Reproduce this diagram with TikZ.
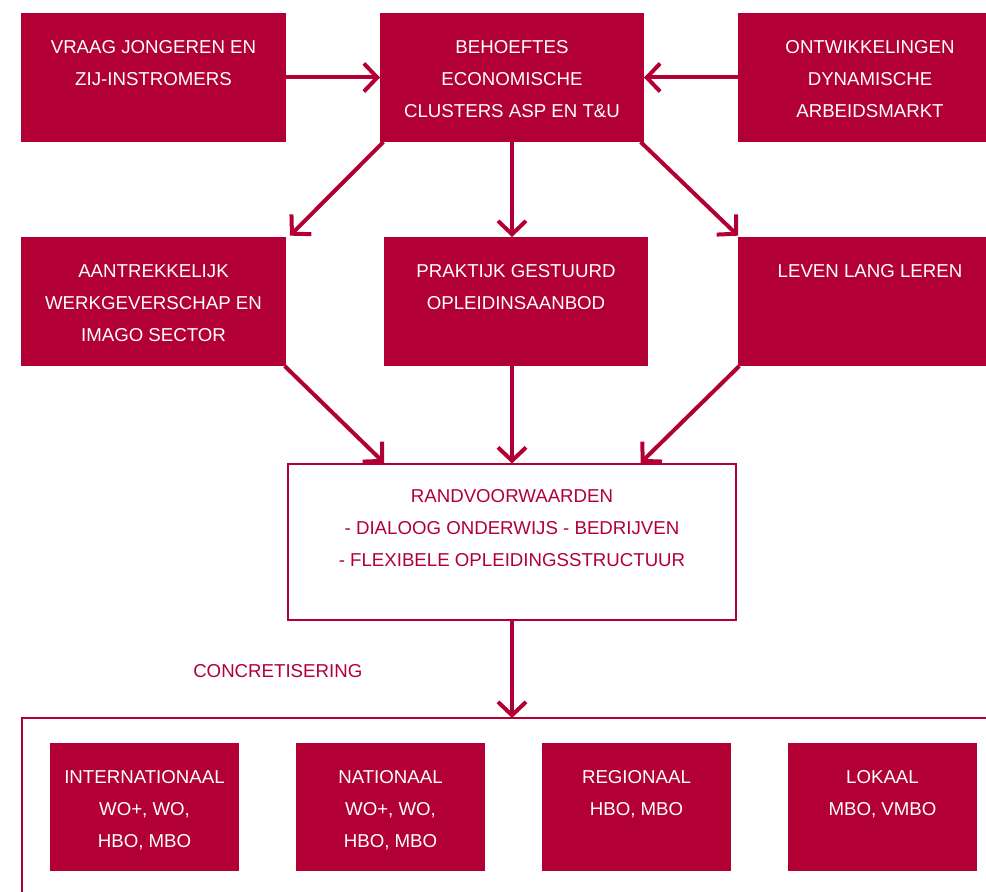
\documentclass[tikz,border=0pt]{standalone}
\usepackage{fontspec}
\setmainfont{Liberation Sans}
\usetikzlibrary{arrows.meta}
\definecolor{crim}{RGB}{178,0,52}

\tikzset{
  px/.style={x=0.75pt,y=-0.75pt},
  fillbox/.style={fill=crim, draw=none, inner sep=0pt, outer sep=0pt},
  linebox/.style={fill=white, draw=crim, line width=1.5pt, inner sep=0pt, outer sep=0pt},
  boxtext/.style={anchor=north, inner sep=0pt, align=center, text=white,
    font=\fontsize{14pt}{24pt}\selectfont},
  redtext/.style={boxtext, text=crim},
  flow/.style={draw=crim, line width=3pt,
    -{Straight Barb[length=10pt,width=21pt,line width=3pt]}},
}

\begin{document}
\begin{tikzpicture}[px]
  \useasboundingbox (0,0) rectangle (986,892);
  \clip (0,0) rectangle (986,892);

  % top row
  \node[fillbox, minimum width=198.75pt, minimum height=96.75pt] (tl) at (153.5,77.5) {};
  \node[fillbox, minimum width=198pt, minimum height=96.75pt] (tc) at (512,77.5) {};
  \node[fillbox, minimum width=198pt, minimum height=96.75pt] (tr) at (870,77.5) {};

  \node[boxtext] (tlt) at (153.5,40.5) {VRAAG JONGEREN EN\\ZIJ-INSTROMERS};
  \node[boxtext] (tct) at (512,40.5) {BEHOEFTES\\ECONOMISCHE\\CLUSTERS ASP EN T\&U};
  \node[boxtext] (trt) at (870,40.5) {ONTWIKKELINGEN\\DYNAMISCHE\\ARBEIDSMARKT};

  % middle row
  \node[fillbox, minimum width=198.75pt, minimum height=96.75pt] (ml) at (153.5,301.5) {};
  \node[fillbox, minimum width=198pt, minimum height=96.75pt] (mc) at (516,301.5) {};
  \node[fillbox, minimum width=198pt, minimum height=96.75pt] (mr) at (870,301.5) {};

  \node[boxtext] (mlt) at (153.5,264.5) {AANTREKKELIJK\\WERKGEVERSCHAP EN\\IMAGO SECTOR};
  \node[boxtext] (mct) at (516,264.5) {PRAKTIJK GESTUURD\\OPLEIDINSAANBOD};
  \node[boxtext] (mrt) at (870,264.5) {LEVEN LANG LEREN};

  % conditions box
  \node[linebox, minimum width=336pt, minimum height=117pt] (rv) at (512,541.5) {};
  \node[redtext] (rvt) at (512,489.5) {RANDVOORWAARDEN\\- DIALOOG ONDERWIJS - BEDRIJVEN\\- FLEXIBELE OPLEIDINGSSTRUCTUUR};

  \node[anchor=west, inner sep=0pt, text=crim, font=\fontsize{14pt}{24pt}\selectfont] (conc) at (193,671) {CONCRETISERING};

  % frame around the levels
  \node[linebox, fill=none, anchor=north west, minimum width=760pt, minimum height=160pt] (frame) at (22,718) {};

  % bottom row
  \foreach \n/\cx in {b1/144.5, b2/390.5, b3/636.5, b4/882.5}
    \node[fillbox, minimum width=141.75pt, minimum height=96pt] (\n) at (\cx,807) {};

  \node[boxtext] (b1t) at (144.5,770.5) {INTERNATIONAAL\\WO+, WO,\\HBO, MBO};
  \node[boxtext] (b2t) at (390.5,770.5) {NATIONAAL\\WO+, WO,\\HBO, MBO};
  \node[boxtext] (b3t) at (636.5,770.5) {REGIONAAL\\HBO, MBO};
  \node[boxtext] (b4t) at (882.5,770.5) {LOKAAL\\MBO, VMBO};

  % connectors
  \draw[flow] (tl.east) -- (tc.west);
  \draw[flow] (tr.west) -- (tc.east);
  \draw[flow] (tc.south) -- (tc.south |- mc.north);
  \draw[flow] ([xshift=2.5pt]tc.south west) -- ([xshift=3pt,yshift=1pt]ml.north east);
  \draw[flow] ([xshift=-2.5pt]tc.south east) -- ([yshift=1pt]mr.north west);
  \draw[flow] ([xshift=-1pt]ml.south east) -- ([xshift=72pt,yshift=0.5pt]rv.north west);
  \draw[flow] (tc.south |- mc.south) -- (tc.south |- rv.north);
  \draw[flow] ([xshift=1pt]mr.south west) -- ([xshift=-71.5pt,yshift=0.5pt]rv.north east);
  \draw[flow] (rv.south) -- (rv.south |- frame.north);
\end{tikzpicture}
\end{document}
